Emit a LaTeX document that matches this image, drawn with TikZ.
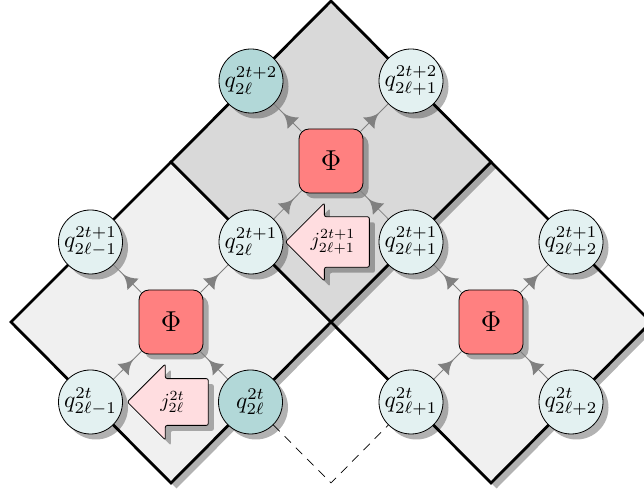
\documentclass[tikz,border=0pt]{standalone}
\usepackage{graphicx}
\usetikzlibrary{shadows,shapes.arrows,decorations.markings}
\definecolor{qlight}{HTML}{E3F1F1}
\definecolor{qteal}{HTML}{B2D8D8}
\definecolor{phired}{HTML}{FF8080}
\definecolor{jpink}{HTML}{FFDDE0}
\tikzset{
  x=1pt,y=1pt,
  softshadow/.style={drop shadow={shadow xshift=5.5pt,shadow yshift=-5.5pt,fill=black,opacity=0.3}},
  plaq/.style={draw=black,line width=2.8pt,line join=miter,softshadow},
  qnode/.style={circle,draw=black,line width=0.8pt,minimum size=64pt,inner sep=0pt,fill=qlight,softshadow},
  qdark/.style={qnode,fill=qteal},
  phibox/.style={rectangle,rounded corners=10pt,draw=black,line width=0.8pt,minimum size=64pt,inner sep=0pt,fill=phired,softshadow},
  jarrow/.style={single arrow,shape border rotate=180,draw=black,line width=0.8pt,fill=jpink,rounded corners=2pt,
    single arrow tip angle=90,single arrow head indent=0pt,inner sep=0pt,softshadow},
  fromphi/.style={draw=black!50,line width=0.8pt,shorten <=-4pt,postaction={shorten <=0pt,decorate},
    decoration={markings,mark=at position 0.42 with {\fill[black!50,shorten <=0pt] (8,0) .. controls (2,0.8) and (-3,4) .. (-7,8) -- (-7,-8) .. controls (-3,-4) and (2,-0.8) .. cycle;}}},
  tophi/.style={draw=black!50,line width=0.8pt,shorten <=-4pt,postaction={shorten <=0pt,decorate},
    decoration={markings,mark=at position 0.42 with {\fill[black!50,shorten <=0pt] (-8,0) .. controls (-2,0.8) and (3,4) .. (7,8) -- (7,-8) .. controls (3,-4) and (-2,-0.8) .. cycle;}}},
  dashlink/.style={draw=black,line width=0.7pt,dash pattern=on 9pt off 7pt},
}
\newcommand{\dbl}[1]{\scalebox{2.35}{#1}}
\newcommand{\phitxt}{\scalebox{2}{\Large$\Phi$}}
\begin{document}
\begin{tikzpicture}
\useasboundingbox (0,0) rectangle (644,494);
\clip (0,0) rectangle (644,494);
\path[plaq,fill=black!6] (11,172) -- (171,332) -- (331,172) -- (171,11) -- cycle;
\path[plaq,fill=black!6] (331,172) -- (491,332) -- (651,172) -- (491,11) -- cycle;
\path[plaq,fill=black!15] (171,332) -- (331,493) -- (491,332) -- (331,172) -- cycle;
\coordinate (dashtip) at (331,11);
\node[phibox] (p1) at (171,172) {\phitxt};
\node[phibox] (p2) at (491,172) {\phitxt};
\node[phibox] (p3) at (331,333) {\phitxt};
\node[qnode] (a1) at (90.5,92) {\dbl{$q^{2t}_{2\ell-1}$}};
\node[qdark] (a2) at (250.5,92) {\dbl{$q^{2t}_{2\ell}$}};
\node[qnode] (a3) at (411,92) {\dbl{$q^{2t}_{2\ell+1}$}};
\node[qnode] (a4) at (571,92) {\dbl{$q^{2t}_{2\ell+2}$}};
\node[qnode] (b1) at (90.5,252) {\dbl{$q^{2t+1}_{2\ell-1}$}};
\node[qnode] (b2) at (251,252) {\dbl{$q^{2t+1}_{2\ell}$}};
\node[qnode] (b3) at (411,252) {\dbl{$q^{2t+1}_{2\ell+1}$}};
\node[qnode] (b4) at (571,252) {\dbl{$q^{2t+1}_{2\ell+2}$}};
\node[qdark] (c2) at (251,413) {\dbl{$q^{2t+2}_{2\ell}$}};
\node[qnode] (c3) at (411,413) {\dbl{$q^{2t+2}_{2\ell+1}$}};
\node[jarrow,minimum height=81pt,minimum width=76pt,text width=38pt,align=center] (j1) at (179.5,92) {\hspace*{-14pt}\scalebox{2}{$j^{2t}_{2\ell}$}};
\node[jarrow,minimum height=84pt,minimum width=78pt,text width=42pt,align=center] (j2) at (340,252) {\hspace*{-14pt}\scalebox{2}{$j^{2t+1}_{2\ell+1}$}};
\draw[tophi] (p1) -- (a1);
\draw[tophi] (p1) -- (a2);
\draw[fromphi] (p1) -- (b1);
\draw[fromphi] (p1) -- (b2);
\draw[tophi] (p2) -- (a3);
\draw[tophi] (p2) -- (a4);
\draw[fromphi] (p2) -- (b3);
\draw[fromphi] (p2) -- (b4);
\draw[tophi] (p3) -- (b2);
\draw[tophi] (p3) -- (b3);
\draw[fromphi] (p3) -- (c2);
\draw[fromphi] (p3) -- (c3);
\draw[dashlink] (a2) -- (dashtip) -- (a3);
\end{tikzpicture}
\end{document}
